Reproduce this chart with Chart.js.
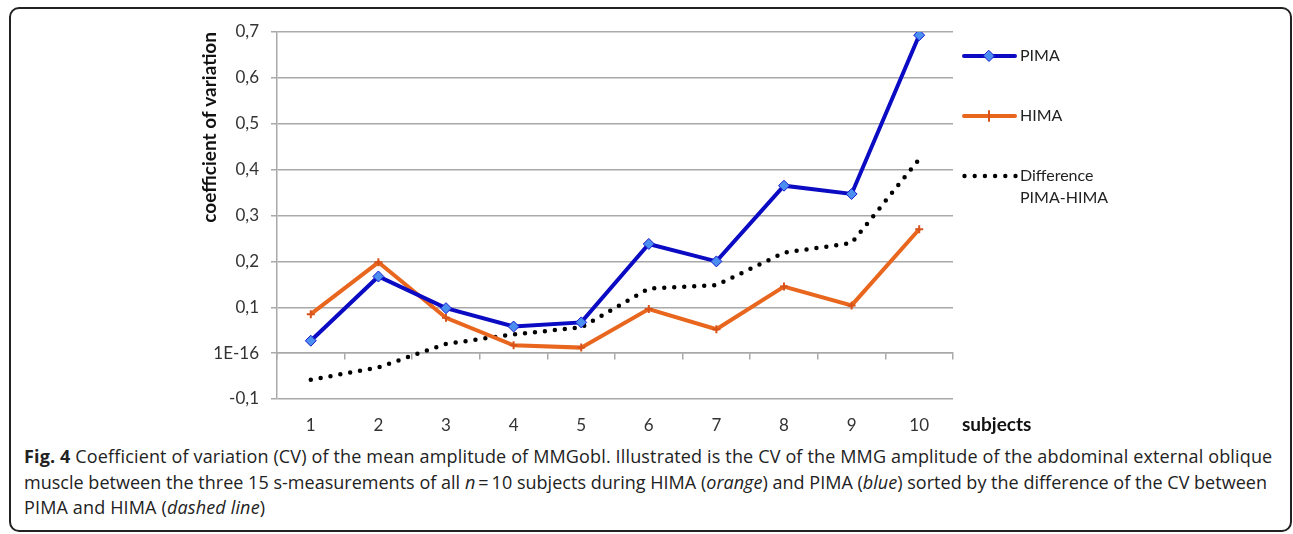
<!DOCTYPE html>
<html>
<head>
<meta charset="utf-8">
<script src="https://cdn.jsdelivr.net/npm/chart.js@4.4.0/dist/chart.umd.min.js"></script>
<style>
  html, body { margin: 0; padding: 0; background: #fff; }
  body { width: 1293px; height: 534px; position: relative; overflow: hidden; }
  .frame { position: absolute; left: 9px; top: 7px; width: 1283px; height: 525px; box-sizing: border-box;
           border: 2px solid #222; border-radius: 10px; }
  .chart-box { position: absolute; left: 0; top: 0; width: 1293px; height: 440px; }
  .caption { position: absolute; left: 24px; top: 444px; font-family: "Open Sans", sans-serif; font-size: 18px;
             letter-spacing: 0.15px; line-height: 25.5px; color: #222; white-space: nowrap; }
  .caption b { font-weight: 700; }
  .caption .tight { letter-spacing: 0.02px; }
</style>
</head>
<body>
<div class="frame"></div>
<div class="chart-box"><canvas id="cv" width="1293" height="440"></canvas></div>
<div class="caption">
  <b>Fig. 4</b> Coefficient of variation (CV) of the mean amplitude of MMGobl. Illustrated is the CV of the MMG amplitude of the abdominal external oblique<br>
  <span class="tight">muscle between the three 15 s-measurements of all <i>n</i>&thinsp;=&thinsp;10 subjects during HIMA (<i>orange</i>) and PIMA (<i>blue</i>) sorted by the difference of the CV between</span><br>
  PIMA and HIMA (<i>dashed line</i>)
</div>
<script>
// values
var subjects = ["1", "2", "3", "4", "5", "6", "7", "8", "9", "10"];
var pima = [0.027, 0.167, 0.098, 0.058, 0.067, 0.238, 0.200, 0.365, 0.347, 0.693];
var hima = [0.085, 0.198, 0.077, 0.017, 0.012, 0.096, 0.052, 0.145, 0.104, 0.270];
var diff = [-0.058, -0.031, 0.020, 0.041, 0.056, 0.141, 0.148, 0.219, 0.240, 0.423];
var yTickLabels = ["-0,1", "1E-16", "0,1", "0,2", "0,3", "0,4", "0,5", "0,6", "0,7"];
// second line of each entry keeps the rows 60px apart; trailing spaces make the legend measure wide enough
var legendText = [["PIMA", ""], ["HIMA", ""], ["Difference", "PIMA-HIMA        "]];

var blue = "#0b0bc4";
var orange = "#e8661e";
var gridGray = "#a9a9a9";

// little line+marker pictures for the legend
function legendIcon(kind) {
  var c = document.createElement("canvas");
  c.width = 57; c.height = 14;
  var g = c.getContext("2d");
  if (kind === "dots") {
    g.fillStyle = "#000";
    for (var i = 0; i < 6; i++) {
      g.beginPath();
      g.arc(2.5 + i * 10.2, 7, 2.2, 0, Math.PI * 2);
      g.fill();
    }
    return c;
  }
  g.strokeStyle = kind === "diamond" ? blue : orange;
  g.lineWidth = 4;
  g.lineCap = "round";
  g.beginPath(); g.moveTo(2, 7); g.lineTo(53, 7); g.stroke();
  if (kind === "diamond") {
    g.fillStyle = "#4a8ef0";
    g.strokeStyle = "#1a1ad0";
    g.lineWidth = 1;
    g.beginPath();
    g.moveTo(27, 1.5); g.lineTo(32.5, 7); g.lineTo(27, 12.5); g.lineTo(21.5, 7); g.closePath();
    g.fill(); g.stroke();
  } else {
    g.strokeStyle = "#d8531a";
    g.lineWidth = 2;
    g.beginPath(); g.moveTo(27, 2); g.lineTo(27, 12); g.stroke();
  }
  return c;
}
var icons = [legendIcon("diamond"), legendIcon("cross"), legendIcon("dots")];

// "subjects" sits at the right end of the category labels
var subjectsLabel = {
  id: "subjectsLabel",
  afterDraw: function (chart) {
    var ctx = chart.ctx;
    var xs = chart.scales.x;
    ctx.save();
    ctx.font = "bold 19px Lato";
    ctx.fillStyle = "#111";
    ctx.textBaseline = "middle";
    ctx.fillText("subjects", chart.chartArea.right + 9, xs.top + 16 + 10);
    ctx.restore();
  }
};

var ctx = document.getElementById("cv");
var chart = new Chart(ctx, {
  type: "line",
  data: {
    labels: subjects,
    datasets: [{
      label: "PIMA",
      data: pima,
      borderColor: blue,
      borderWidth: 4,
      pointStyle: "rectRot",
      pointRadius: 5.5,
      pointBackgroundColor: "#4a8ef0",
      pointBorderColor: "#1a1ad0",
      pointBorderWidth: 1,
      tension: 0
    }, {
      label: "HIMA",
      data: hima,
      borderColor: orange,
      borderWidth: 4,
      pointStyle: "cross",
      pointRadius: 4,
      pointBorderColor: "#d8531a",
      pointBorderWidth: 2,
      tension: 0
    }, {
      label: "Difference PIMA-HIMA",
      data: diff,
      borderColor: "#000",
      borderWidth: 4.5,
      borderDash: [0, 10],
      borderCapStyle: "round",
      pointRadius: 0,
      tension: 0
    }]
  },
  options: {
    responsive: false,
    animation: false,
    devicePixelRatio: 1,
    layout: { padding: { left: 194, top: 32, right: 174, bottom: 7 } },
    plugins: {
      tooltip: { enabled: false },
      legend: {
        position: "right",
        align: "start",
        maxWidth: 166,
        labels: {
          usePointStyle: true,
          pointStyleWidth: 43,
          padding: 16,
          color: "#222",
          font: { family: "Lato", size: 16, lineHeight: 1.375 },
          generateLabels: function (chart) {
            return chart.data.datasets.map(function (ds, i) {
              return {
                text: legendText[i],
                pointStyle: icons[i],
                fillStyle: "transparent",
                strokeStyle: "transparent",
                lineWidth: 0,
                hidden: false,
                datasetIndex: i,
                fontColor: "#222"
              };
            });
          }
        }
      }
    },
    scales: {
      x: {
        offset: true,
        afterFit: function (scale) { scale.height = 34; },
        grid: { display: false, drawTicks: false },
        border: { display: false },
        ticks: { padding: 16, color: "#333", font: { family: "Lato", size: 17 } }
      },
      x2: {
        type: "category",
        labels: subjects,
        position: { y: 0 },
        offset: true,
        afterFit: function (scale) { scale.height = 0; },
        grid: { offset: true, drawOnChartArea: false, tickLength: 6, color: gridGray, lineWidth: 1.5 },
        border: { color: gridGray, width: 1.5 },
        ticks: { display: false }
      },
      y: {
        min: -0.1,
        max: 0.7,
        afterFit: function (scale) { scale.width = 83; },
        ticks: {
          stepSize: 0.1,
          padding: 12,
          color: "#333",
          font: { family: "Lato", size: 17 },
          callback: function (value, index) { return yTickLabels[index]; }
        },
        grid: { color: gridGray, lineWidth: 1.5, tickLength: 6 },
        border: { color: gridGray, width: 1.5 },
        title: {
          display: true,
          text: "coefficient of variation",
          align: "end",
          color: "#111",
          font: { family: "Lato", size: 19, weight: "bold" }
        }
      }
    }
  },
  plugins: [subjectsLabel]
});
</script>
</body>
</html>
